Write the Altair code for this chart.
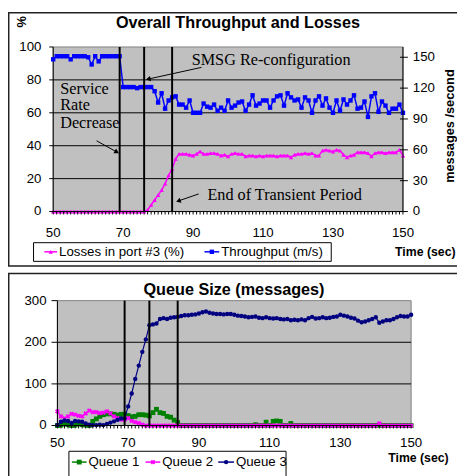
import math
import altair as alt
import pandas as pd

# ---------------- data ----------------
TIME = list(range(50, 151))

THROUGHPUT = [
    148, 151, 151, 151, 151, 148, 151, 151, 151, 151,
    150, 143, 151, 146, 151, 151, 151, 151, 151, 151,
    121, 121, 121, 121, 120, 121, 121, 121, 121, 117,
    106, 115, 100, 108, 111, 112, 104, 104, 101, 108,
    96, 96, 96, 105, 102, 101, 104, 98, 101, 98,
    108, 101, 103, 106, 107, 98, 104, 113, 103, 105,
    108, 108, 101, 108, 112, 113, 103, 115, 111, 108,
    109, 101, 111, 108, 96, 108, 112, 103, 110, 101,
    96, 108, 98, 109, 104, 108, 113, 100, 101, 107,
    92, 112, 115, 97, 107, 103, 96, 100, 100, 104,
    96,
]

LOSSES = [
    0, 0, 0, 0, 0, 0, 0, 0, 0, 0,
    0, 0, 0, 0, 0, 0, 0, 0, 0, 0,
    0, 0, 0, 0, 0, 0, 0, 1, 4, 7,
    10, 13, 17, 22, 26, 32, 35, 35, 35, 34.5,
    34, 35, 36.5, 35, 35, 35.5, 35.5, 35, 34, 34.5,
    33.5, 35, 35.5, 35, 35, 33.5, 34, 34, 33.5, 34,
    33.5, 34, 34, 34, 33.5, 34, 34, 34, 33, 34.5,
    35, 35, 35.5, 35, 35.5, 34, 34, 37, 37.5, 37,
    36.5, 37.5, 37, 34.5, 33, 34, 34.5, 36, 36, 36,
    35.5, 33.5, 35.5, 36, 36, 35.5, 36, 36, 36, 37.5,
    34,
]

QUEUE1 = [
    0, 1, 4, 2, 0, 1, 4, 2, 1, 0,
    10, 16, 22, 26, 28, 28, 27, 25, 27, 27,
    24, 21, 22, 26, 26, 25, 23, 31, 39, 31,
    29, 22, 20, 13, 7, 0, 0, 0, 0, 0,
    0, 0, 0, 0, 0, 0, 0, 0, 0, 0,
    0, 0, 0, 0, 0, 0, 2, 0, 0, 8,
    0, 10, 11, 10, 0, 0, 5, 0, 0, 0,
    0, 0, 0, 0, 0, 0, 0, 0, 0, 0,
    0, 0, 0, 0, 0, 0, 0, 0, 0, 0,
    0, 1, 0, 0, 0, 0, 0, 0, 0, 0,
    0,
]

QUEUE2 = [
    34, 22, 17, 22, 28, 26, 23, 22, 29, 36,
    32, 32, 30, 31, 34, 29, 22, 18, 14, 14,
    18, 11, 8, 6, 2, 0, 0, 0, 0, 0,
    0, 0, 0, 0, 0, 0, 0, 0, 0, 0,
    0, 0, 0, 0, 0, 0, 0, 0, 0, 0,
    0, 0, 0, 0, 0, 0, 0, 0, 0, 0,
    0, 0, 0, 0, 0, 0, 0, 0, 0, 0,
    0, 0, 0, 0, 0, 0, 0, 0, 0, 0,
    0, 0, 0, 0, 0, 0, 0, 0, 0, 0,
    0, 5, 0, 0, 0, 0, 0, 0, 0, 0,
    0,
]

QUEUE3 = [
    1, 9, 12, 11, 6, 11, 10, 9, 5, 2,
    1, 1, 2, 1, 4, 7, 10, 14, 17, 17,
    46, 77, 112, 144, 177, 207, 241, 243, 245, 256,
    258, 256, 259, 260, 261, 263, 265, 265, 266, 267,
    269, 272, 274, 271, 269, 268, 268, 267, 268, 268,
    266, 264, 263, 262, 260, 261, 262, 259, 258, 260,
    258, 257, 258, 256, 255, 256, 253, 254, 253, 255,
    253, 258, 261, 257, 258, 260, 258, 259, 261, 262,
    266, 264, 262, 259, 257, 252, 248, 250, 253, 256,
    260, 247, 250, 253, 253, 256, 260, 263, 262, 262,
    266,
]

EVENTS = [69, 76, 84]
X_LABELS = [50, 70, 90, 110, 130, 150]
PCT_TICKS = [0, 20, 40, 60, 80, 100]
MSG_TICKS = [0, 30, 60, 90, 120, 150]
MSG_MAX = 160
Q_TICKS = [0, 100, 200, 300]

TOP_TITLE = "Overall Throughput and Losses"
BOT_TITLE = "Queue Size (messages)"
LEFT_TITLE = "%"
RIGHT_TITLE = "messages /second"
X_TITLE = "Time (sec)"

ANNOT_TEXT = ["SMSG Re-configuration", "Service", "Rate", "Decrease", "End of Transient Period"]
ANNOT_T = [89.6, 52.0, 52.0, 52.0, 94.1]
ANNOT_P = [91.9, 74.6, 64.5, 53.7, 10.1]

ARROW_T0 = [92.4, 62.4, 91.6]
ARROW_P0 = [87.6, 43.0, 10.7]
ARROW_T1 = [77.4, 68.0, 86.0]
ARROW_P1 = [80.6, 36.4, 6.6]

LEG_TOP_LABELS = ["Losses in port #3 (%)", "Throughput (m/s)"]
LEG_BOT_LABELS = ["Queue 1", "Queue 2", "Queue 3"]

# ---------------- layout / style ----------------
FONT = "Liberation Sans"
SERIF = "Liberation Serif"
W, H = 457, 468
TOP_XR = [46, 402]
TOP_YR = [203, 35.5]
BOT_XR = [50.3, 410.3]
BOT_YR = [420.8, 293.7]
LBL = 13.5

C_LOSS = "#ff00ff"
C_THR = "#0000ff"
C_Q1 = "#008000"
C_Q2 = "#ff00ff"
C_Q3 = "#000080"
BG = "#c0c0c0"

df = pd.DataFrame({"t": TIME, "thr": THROUGHPUT, "loss": LOSSES,
                   "q1": QUEUE1, "q2": QUEUE2, "q3": QUEUE3})

x_top = alt.Scale(domain=[TIME[0], TIME[-1]], range=TOP_XR, nice=False, zero=False)
y_pct = alt.Scale(domain=[PCT_TICKS[0], PCT_TICKS[-1]], range=TOP_YR, nice=False, zero=False)
y_msg = alt.Scale(domain=[0, MSG_MAX], range=TOP_YR, nice=False, zero=False)
x_bot = alt.Scale(domain=[TIME[0], TIME[-1]], range=BOT_XR, nice=False, zero=False)
y_q = alt.Scale(domain=[Q_TICKS[0], Q_TICKS[-1]], range=BOT_YR, nice=False, zero=False)


def X(f, s):
    return alt.X(f, scale=s, axis=None)


def Y(f, s):
    return alt.Y(f, scale=s, axis=None)


def txt_mark(**kw):
    base = dict(font=FONT, fontSize=LBL, color="black")
    base.update(kw)
    return base


# ---- hand-built axes (drawn through the scales) ----
def y_axis(values, yscale, x_px, side, tick_out, tick_in, pad):
    d = pd.DataFrame({"v": values})
    sign = -1 if side == "left" else 1
    return [
        alt.Chart(d).mark_rule(color="black", strokeWidth=1).encode(
            y=Y("v:Q", yscale), x=alt.value(x_px - sign * tick_in),
            x2=alt.value(x_px + sign * tick_out)),
        alt.Chart(d).mark_text(**txt_mark(align="right" if side == "left" else "left",
                                          baseline="middle")).encode(
            y=Y("v:Q", yscale), x=alt.value(x_px + sign * (tick_out + pad)), text="v:Q"),
    ]


def y_domain(lo, hi, yscale, x_px):
    dom = pd.DataFrame({"lo": [lo], "hi": [hi]})
    return alt.Chart(dom).mark_rule(color="black", strokeWidth=1).encode(
        y=Y("lo:Q", yscale), y2="hi:Q", x=alt.value(x_px))


def x_axis(xscale, y_px, pad):
    ticks = pd.DataFrame({"t": TIME})
    labs = pd.DataFrame({"t": X_LABELS})
    dom = pd.DataFrame({"lo": [TIME[0]], "hi": [TIME[-1]]})
    return [
        alt.Chart(ticks).mark_rule(color="black", strokeWidth=1).encode(
            x=X("t:Q", xscale), y=alt.value(y_px), y2=alt.value(y_px + 3)),
        alt.Chart(dom).mark_rule(color="black", strokeWidth=1).encode(
            x=X("lo:Q", xscale), x2="hi:Q", y=alt.value(y_px)),
        alt.Chart(labs).mark_text(**txt_mark(align="center", baseline="top")).encode(
            x=X("t:Q", xscale), y=alt.value(y_px + 3 + pad), text="t:Q"),
    ]


# ---------------- top panel (percent scale) ----------------
bg_top = alt.Chart(pd.DataFrame({"x0": [TIME[0]], "x1": [TIME[-1]],
                                 "y0": [PCT_TICKS[0]], "y1": [PCT_TICKS[-1]]})).mark_rect(
    fill=BG, stroke="#808080", strokeWidth=1).encode(
    x=X("x0:Q", x_top), x2="x1:Q", y=Y("y0:Q", y_pct), y2="y1:Q")

grid_top = alt.Chart(pd.DataFrame({"v": PCT_TICKS[1:-1], "x0": TIME[0], "x1": TIME[-1]})).mark_rule(
    color="black", strokeWidth=1).encode(
    x=X("x0:Q", x_top), x2="x1:Q", y=Y("v:Q", y_pct))

loss_line = alt.Chart(df).mark_line(color=C_LOSS, strokeWidth=1.5).encode(
    x=X("t:Q", x_top), y=Y("loss:Q", y_pct))
loss_pts = alt.Chart(df).mark_point(shape="triangle-up", filled=True, size=20,
                                    color=C_LOSS, opacity=1).encode(
    x=X("t:Q", x_top), y=Y("loss:Q", y_pct))

ev_top = alt.Chart(pd.DataFrame({"t": EVENTS, "lo": PCT_TICKS[0], "hi": PCT_TICKS[-1]})).mark_rule(
    color="black", strokeWidth=2).encode(
    x=X("t:Q", x_top), y=Y("lo:Q", y_pct), y2="hi:Q")

annot = alt.Chart(pd.DataFrame({"txt": ANNOT_TEXT, "t": ANNOT_T, "p": ANNOT_P})).mark_text(
    font=SERIF, fontSize=16.5, align="left", baseline="middle", color="black").encode(
    x=X("t:Q", x_top), y=Y("p:Q", y_pct), text="txt:N")

sx = (TOP_XR[1] - TOP_XR[0]) / (TIME[-1] - TIME[0])
sy = (TOP_YR[0] - TOP_YR[1]) / (PCT_TICKS[-1] - PCT_TICKS[0])
ARROW_ANG = []
for a0, b0, a1, b1 in zip(ARROW_T0, ARROW_P0, ARROW_T1, ARROW_P1):
    dxp = (a1 - a0) * sx
    dyp = -(b1 - b0) * sy
    ARROW_ANG.append(math.degrees(math.atan2(dxp, -dyp)) % 360)

arr_df = pd.DataFrame({"t0": ARROW_T0, "p0": ARROW_P0, "t1": ARROW_T1, "p1": ARROW_P1,
                       "ang": ARROW_ANG})
arrow_lines = alt.Chart(arr_df).mark_rule(color="black", strokeWidth=1).encode(
    x=X("t0:Q", x_top), y=Y("p0:Q", y_pct), x2="t1:Q", y2="p1:Q")
arrow_heads = alt.Chart(arr_df).mark_point(shape="triangle", filled=True, size=30,
                                           color="black", opacity=1).encode(
    x=X("t1:Q", x_top), y=Y("p1:Q", y_pct), angle=alt.Angle("ang:Q", scale=None))

top_pct = alt.layer(
    bg_top, grid_top, loss_line, loss_pts,
    *y_axis(PCT_TICKS, y_pct, TOP_XR[0], "left", 4, 0, 8),
    y_domain(PCT_TICKS[0], PCT_TICKS[-1], y_pct, TOP_XR[0]),
    *x_axis(x_top, TOP_YR[0], 12),
)

# ---------------- top panel (messages scale) ----------------
thr_line = alt.Chart(df).mark_line(color=C_THR, strokeWidth=1.5).encode(
    x=X("t:Q", x_top), y=Y("thr:Q", y_msg))
thr_pts = alt.Chart(df).mark_point(shape="square", filled=True, size=20,
                                   color=C_THR, opacity=1).encode(
    x=X("t:Q", x_top), y=Y("thr:Q", y_msg))
top_msg = alt.layer(
    thr_line, thr_pts,
    *y_axis(MSG_TICKS, y_msg, TOP_XR[1], "right", 5, 3, 5),
    y_domain(0, MSG_MAX, y_msg, TOP_XR[1]),
)

top_over = alt.layer(ev_top, annot, arrow_lines, arrow_heads)

top = alt.layer(top_pct, top_msg, top_over).resolve_scale(y="independent")

# ---------------- bottom panel ----------------
bg_bot = alt.Chart(pd.DataFrame({"x0": [TIME[0]], "x1": [TIME[-1]],
                                 "y0": [Q_TICKS[0]], "y1": [Q_TICKS[-1]]})).mark_rect(
    fill=BG, stroke="#808080", strokeWidth=1).encode(
    x=X("x0:Q", x_bot), x2="x1:Q", y=Y("y0:Q", y_q), y2="y1:Q")
grid_bot = alt.Chart(pd.DataFrame({"v": Q_TICKS[1:-1], "x0": TIME[0], "x1": TIME[-1]})).mark_rule(
    color="black", strokeWidth=1).encode(
    x=X("x0:Q", x_bot), x2="x1:Q", y=Y("v:Q", y_q))


def series(field, color, shape, size, angle=0):
    line = alt.Chart(df).mark_line(color=color, strokeWidth=1.2).encode(
        x=X("t:Q", x_bot), y=Y(f"{field}:Q", y_q))
    pts = alt.Chart(df).mark_point(shape=shape, filled=True, size=size, color=color,
                                   opacity=1, angle=angle).encode(
        x=X("t:Q", x_bot), y=Y(f"{field}:Q", y_q))
    return [line, pts]


ev_bot = alt.Chart(pd.DataFrame({"t": EVENTS, "lo": Q_TICKS[0], "hi": Q_TICKS[-1]})).mark_rule(
    color="black", strokeWidth=2).encode(
    x=X("t:Q", x_bot), y=Y("lo:Q", y_q), y2="hi:Q")

bottom = alt.layer(
    bg_bot, grid_bot,
    *series("q1", C_Q1, "square", 24),
    *series("q2", C_Q2, "cross", 24, 45),
    *series("q3", C_Q3, "circle", 20),
    ev_bot,
    *y_axis(Q_TICKS, y_q, BOT_XR[0], "left", 6, 0, 5),
    y_domain(Q_TICKS[0], Q_TICKS[-1], y_q, BOT_XR[0]),
    *x_axis(x_bot, BOT_YR[0], 8),
)

# ---------------- decorations (frames, titles, legends) ----------------
one = pd.DataFrame({"k": [0]})


def frame(x0, x1, y0, y1, stroke="#222222", sw=1.5, fill=None):
    kw = dict(stroke=stroke, strokeWidth=sw)
    kw["fill"] = fill if fill else "transparent"
    return alt.Chart(one).mark_rect(**kw).encode(
        x=alt.value(x0), x2=alt.value(x1), y=alt.value(y0), y2=alt.value(y1))


def label(txt, x, y, size=LBL, bold=False, font=FONT, align="left", angle=0):
    kw = dict(font=font, fontSize=size, align=align, baseline="middle", color="black")
    if bold:
        kw["fontWeight"] = "bold"
    if angle:
        kw["angle"] = angle
    return alt.Chart(pd.DataFrame({"txt": [txt]})).mark_text(**kw).encode(
        x=alt.value(x), y=alt.value(y), text="txt:N")


def legend_item(x, y, color, shape, txt, size=20, angle=0, length=14):
    ln = alt.Chart(one).mark_rule(color=color, strokeWidth=1.5).encode(
        x=alt.value(x), x2=alt.value(x + length), y=alt.value(y))
    pt = alt.Chart(one).mark_point(shape=shape, filled=True, size=size, color=color,
                                   opacity=1, angle=angle).encode(
        x=alt.value(x + length / 2), y=alt.value(y))
    return [ln, pt, label(txt, x + length + 2, y)]


decor_back = [
    frame(0.75, 470, 0.75, 258.5),
    frame(0.75, 470, 266, 480),
]

decor_front = [
    label(TOP_TITLE, 234, 11.5, size=16.5, bold=True, align="center"),
    label(BOT_TITLE, 230, 282.7, size=16.5, bold=True, align="center"),
    label(LEFT_TITLE, 14, 10, size=13, bold=True, align="center", angle=270),
    label(RIGHT_TITLE, 450, 116, size=13, bold=True, align="center", angle=270),
    label(X_TITLE, 394, 244, size=12.5, bold=True),
    label(X_TITLE, 387, 453.7, size=12.5, bold=True),
    frame(26, 329, 234.7, 253.7, stroke="black", sw=1, fill="white"),
    *legend_item(37, 244, C_LOSS, "triangle-up", LEG_TOP_LABELS[0], size=20, length=13),
    *legend_item(200, 244, C_THR, "square", LEG_TOP_LABELS[1], size=20, length=15),
    frame(62, 283, 447, 480, stroke="black", sw=1, fill="white"),
    *legend_item(65, 458, C_Q1, "square", LEG_BOT_LABELS[0], size=24, length=15),
    *legend_item(140, 458, C_Q2, "cross", LEG_BOT_LABELS[1], size=24, angle=45, length=15),
    *legend_item(214, 458, C_Q3, "circle", LEG_BOT_LABELS[2], size=20, length=16),
]

chart = alt.layer(*decor_back, top, bottom, *decor_front).resolve_scale(
    x="independent", y="independent").properties(
    width=W, height=H, padding=0,
    autosize=alt.AutoSizeParams(type="none"),
    background="white",
).configure_view(stroke=None)

chart.save("out.html", embed_options={"renderer": "svg", "actions": False})
